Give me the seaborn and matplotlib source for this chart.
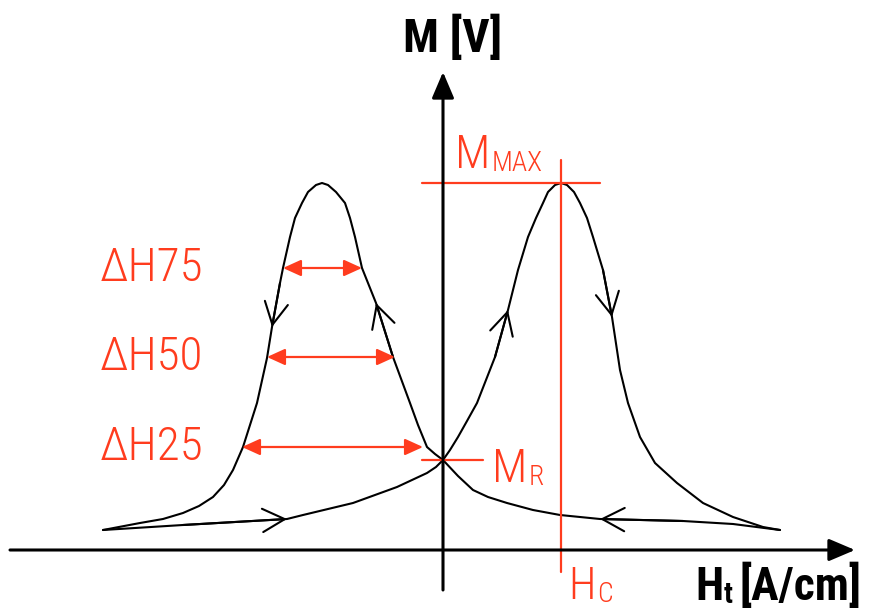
import matplotlib
matplotlib.use("Agg")
import matplotlib.pyplot as plt
from matplotlib import font_manager
from matplotlib.font_manager import FontProperties
import pandas as pd
import seaborn as sns

# Decreasing-field branch (traversed from +H to -H), peak at -Hc
H_down = [3.37, 2.90, 2.40, 1.57, 1.17, 0.90, 0.64, 0.45, 0.30, 0.15, 0.00,
          -0.08, -0.16, -0.25, -0.33, -0.50, -0.67, -0.81, -0.88, -0.93, -0.98,
          -1.07, -1.15, -1.21, -1.27, -1.35, -1.41, -1.48, -1.53, -1.60, -1.63,
          -1.71, -1.76, -1.86, -1.93, -2.00, -2.10, -2.19, -2.30, -2.44, -2.60,
          -2.80, -3.03, -3.40]
M_down = [0.20, 0.26, 0.29, 0.31, 0.35, 0.40, 0.47, 0.53, 0.60, 0.74, 0.90,
          0.96, 1.03, 1.25, 1.47, 1.93, 2.47, 2.82, 3.13, 3.32, 3.47,
          3.58, 3.65, 3.67, 3.65, 3.58, 3.47, 3.32, 3.13, 2.82, 2.67,
          2.23, 1.92, 1.47, 1.25, 1.03, 0.80, 0.65, 0.53, 0.44, 0.37,
          0.31, 0.27, 0.20]

# Increasing-field branch (traversed from -H to +H), peak at +Hc
H_up = [-3.40, -2.60, -1.56, -1.40, -0.90, -0.46, -0.16, -0.07, 0.00, 0.07,
        0.15, 0.24, 0.34, 0.52, 0.65, 0.75, 0.85, 0.93, 1.00, 1.05,
        1.12, 1.18, 1.24, 1.31, 1.37, 1.44, 1.50, 1.60, 1.69, 1.77,
        1.85, 1.97, 2.12, 2.34, 2.60, 2.90, 3.20, 3.37]
M_up = [0.20, 0.25, 0.31, 0.35, 0.47, 0.63, 0.77, 0.83, 0.90, 1.00,
        1.13, 1.29, 1.47, 1.93, 2.40, 2.80, 3.13, 3.32, 3.47, 3.58,
        3.65, 3.67, 3.65, 3.58, 3.47, 3.32, 3.13, 2.80, 2.33, 1.80,
        1.47, 1.13, 0.87, 0.67, 0.47, 0.33, 0.23, 0.20]

# Direction markers: index of the tip vertex on each branch
arrow_idx_down = [3, 16, 31]
arrow_idx_up = [2, 14, 28]

# Peak widths at 75 / 50 / 25 % level
dH_labels = ["ΔH75", "ΔH50", "ΔH25"]
dH_level = [2.82, 1.93, 1.03]
dH_left = [-1.60, -1.76, -2.01]
dH_right = [-0.81, -0.48, -0.20]

# Characteristic values
H_C = 1.18
M_MAX = 3.67
M_R = 0.90

RED = "#FF3C1E"

sns.set_theme(style="white")
plt.rcParams["font.family"] = ["Liberation Sans", "DejaVu Sans"]


def _w(f):
    try:
        return int(f.weight)
    except (TypeError, ValueError):
        return {"normal": 400, "regular": 400, "bold": 700, "light": 300}.get(str(f.weight), 400)


def narrow_font(weights):
    """Return a file path for a narrow sans face, trying weights in order."""
    fonts = [f for f in font_manager.fontManager.ttflist if f.style == "normal"]
    prefs = [
        (lambda f: f.name == "Liberation Sans Narrow", None),
        (lambda f: f.name == "Roboto Condensed", None),
        (lambda f: f.name in ("Noto Sans", "Noto Sans Condensed"), "condensed"),
        (lambda f: f.name in ("Open Sans", "Open Sans Condensed"), "condensed"),
        (lambda f: f.name in ("Noto Sans", "Noto Sans SemiCondensed"), "semi-condensed"),
        (lambda f: f.name == "Liberation Sans", None),
    ]
    for test, stretch in prefs:
        for w in weights:
            for f in fonts:
                if test(f) and (stretch is None or f.stretch == stretch) and _w(f) == w:
                    return f.fname
    return font_manager.findfont("DejaVu Sans")


FONT_THIN = narrow_font([300, 400])
FONT_BOLD = narrow_font([700, 600])


def fp(path, size):
    return FontProperties(fname=path, size=size)


fig = plt.figure(figsize=(8.69, 6.12), dpi=100)
ax = fig.add_axes([0, 0, 1, 1])
ax.set_xlim(-4.43, 4.26)
ax.set_ylim(-0.62, 5.50)
ax.axis("off")

# Coordinate axes with arrow heads
axis_kw = dict(arrowstyle="-|>,head_length=0.8,head_width=0.34", lw=2.2,
               color="black", shrinkA=0, shrinkB=0, mutation_scale=20)
ax.annotate("", xy=(4.12, 0), xytext=(-4.33, 0), arrowprops=axis_kw)
ax.annotate("", xy=(0, 4.78), xytext=(0, -0.40), arrowprops=axis_kw)

# Hysteresis branches
df = pd.concat([
    pd.DataFrame({"H": H_down, "M": M_down, "branch": "down"}),
    pd.DataFrame({"H": H_up, "M": M_up, "branch": "up"}),
])
sns.lineplot(data=df, x="H", y="M", units="branch", estimator=None, sort=False,
             color="black", lw=1.5, ax=ax)

chev = dict(arrowstyle="->,head_length=0.8,head_width=0.42", lw=1.5,
            color="black", shrinkA=0, shrinkB=0, mutation_scale=20)
for Hs, Ms, idxs in [(H_down, M_down, arrow_idx_down), (H_up, M_up, arrow_idx_up)]:
    for i in idxs:
        ax.annotate("", xy=(Hs[i], Ms[i]), xytext=(Hs[i - 1], Ms[i - 1]), arrowprops=chev)

# Red reference lines
ax.plot([-0.21, 1.57], [M_MAX, M_MAX], color=RED, lw=1.6)
ax.plot([H_C, H_C], [-0.22, 3.90], color=RED, lw=1.6)
ax.plot([-0.21, 0.40], [M_R, M_R], color=RED, lw=1.6)

# Width arrows
dbl = dict(arrowstyle="<|-|>,head_length=0.55,head_width=0.25", lw=1.6,
           color=RED, shrinkA=0, shrinkB=0, mutation_scale=20)
for lab, lv, l, r in zip(dH_labels, dH_level, dH_left, dH_right):
    ax.annotate("", xy=(r, lv), xytext=(l, lv), arrowprops=dbl)
    ax.text(-3.43, lv, lab, color=RED, fontproperties=fp(FONT_THIN, 34),
            ha="left", va="center")


def with_sub(x, y, main, sub, color, path, size, sub_size, gap=1):
    t = ax.text(x, y, main, color=color, fontproperties=fp(path, size),
                ha="left", va="baseline")
    s = ax.annotate(sub, xy=(1, 0), xycoords=t, xytext=(gap, 0),
                    textcoords="offset points", color=color,
                    fontproperties=fp(path, sub_size), ha="left", va="bottom")
    return t, s


# Labels of characteristic values
with_sub(0.12, 3.82, "M", "MAX", RED, FONT_THIN, 34, 20)
with_sub(0.49, 0.68, "M", "R", RED, FONT_THIN, 34, 20)
with_sub(1.25, -0.49, "H", "C", RED, FONT_THIN, 32, 20)

# Axis titles
ax.text(-0.40, 4.98, "M [V]", color="black", fontproperties=fp(FONT_BOLD, 34),
        ha="left", va="baseline")
h, t = with_sub(2.52, -0.50, "H", "t", "black", FONT_BOLD, 33, 21, gap=0)
ax.annotate("[A/cm]", xy=(1, 0), xycoords=(t, h), xytext=(5, 0),
            textcoords="offset points", color="black",
            fontproperties=fp(FONT_BOLD, 33), ha="left", va="bottom")

fig.savefig("out.png", dpi=100)
